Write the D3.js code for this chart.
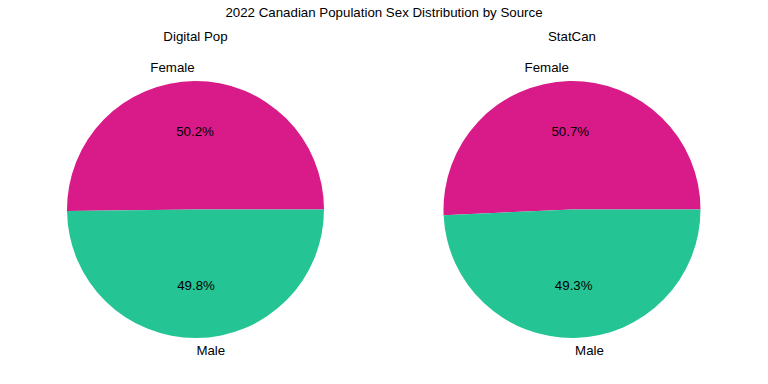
<!DOCTYPE html>
<html><head><meta charset="utf-8">
<script src="https://cdn.jsdelivr.net/npm/d3@7"></script>
<style>body{margin:0;background:#fff}svg{display:block}</style>
</head><body>
<svg id="c" width="768" height="384"></svg>
<script>
const title = "2022 Canadian Population Sex Distribution by Source";
const sources = ["Digital Pop", "StatCan"];
const categories = ["Female", "Male"];
const digitalPopValues = [50.2, 49.8];
const statCanValues = [50.7, 49.3];
const colors = ["#d81b89", "#25c494"];

const svg = d3.select("#c");
const font = "Liberation Sans, Arial, sans-serif";
const fs = 13.3;
svg.append("text").attr("x", 384).attr("y", 17).attr("text-anchor", "middle")
  .attr("font-family", font).attr("font-size", fs).text(title);

const centers = [195.5, 572];
const cy = 209.5, r = 128.5;
const allValues = [digitalPopValues, statCanValues];

allValues.forEach((vals, i) => {
  const g = svg.append("g").attr("transform", `translate(${centers[i]},${cy})`);
  svg.append("text").attr("x", centers[i]).attr("y", 41).attr("text-anchor", "middle")
    .attr("font-family", font).attr("font-size", fs).text(sources[i]);
  const total = d3.sum(vals);
  // matplotlib: start at 3 o'clock, counterclockwise
  const angleScale = d3.scaleLinear().domain([0, total]).range([0, 2 * Math.PI]);
  let cum = 0;
  const wedges = vals.map((v, k) => {
    const a0 = angleScale(cum); cum += v; const a1 = angleScale(cum);
    return {v, k, a0, a1};
  });
  const arc = d3.arc().innerRadius(0).outerRadius(r);
  g.selectAll("path").data(wedges).join("path")
    .attr("d", d => arc({startAngle: Math.PI / 2 - d.a1, endAngle: Math.PI / 2 - d.a0}))
    .attr("fill", d => colors[d.k]);
  wedges.forEach(d => {
    const m = (d.a0 + d.a1) / 2;
    const lx = 1.1 * r * Math.cos(m), ly = -1.1 * r * Math.sin(m);
    g.append("text").attr("x", lx).attr("y", ly).attr("dy", "0.28em")
      .attr("text-anchor", lx < 0 ? "end" : "start")
      .attr("font-family", font).attr("font-size", fs).text(categories[d.k]);
    const px = 0.6 * r * Math.cos(m), py = -0.6 * r * Math.sin(m);
    g.append("text").attr("x", px).attr("y", py).attr("dy", "0.28em")
      .attr("text-anchor", "middle")
      .attr("font-family", font).attr("font-size", fs)
      .text(d3.format(".1f")(d.v / total * 100) + "%");
  });
});
</script>
</body></html>
